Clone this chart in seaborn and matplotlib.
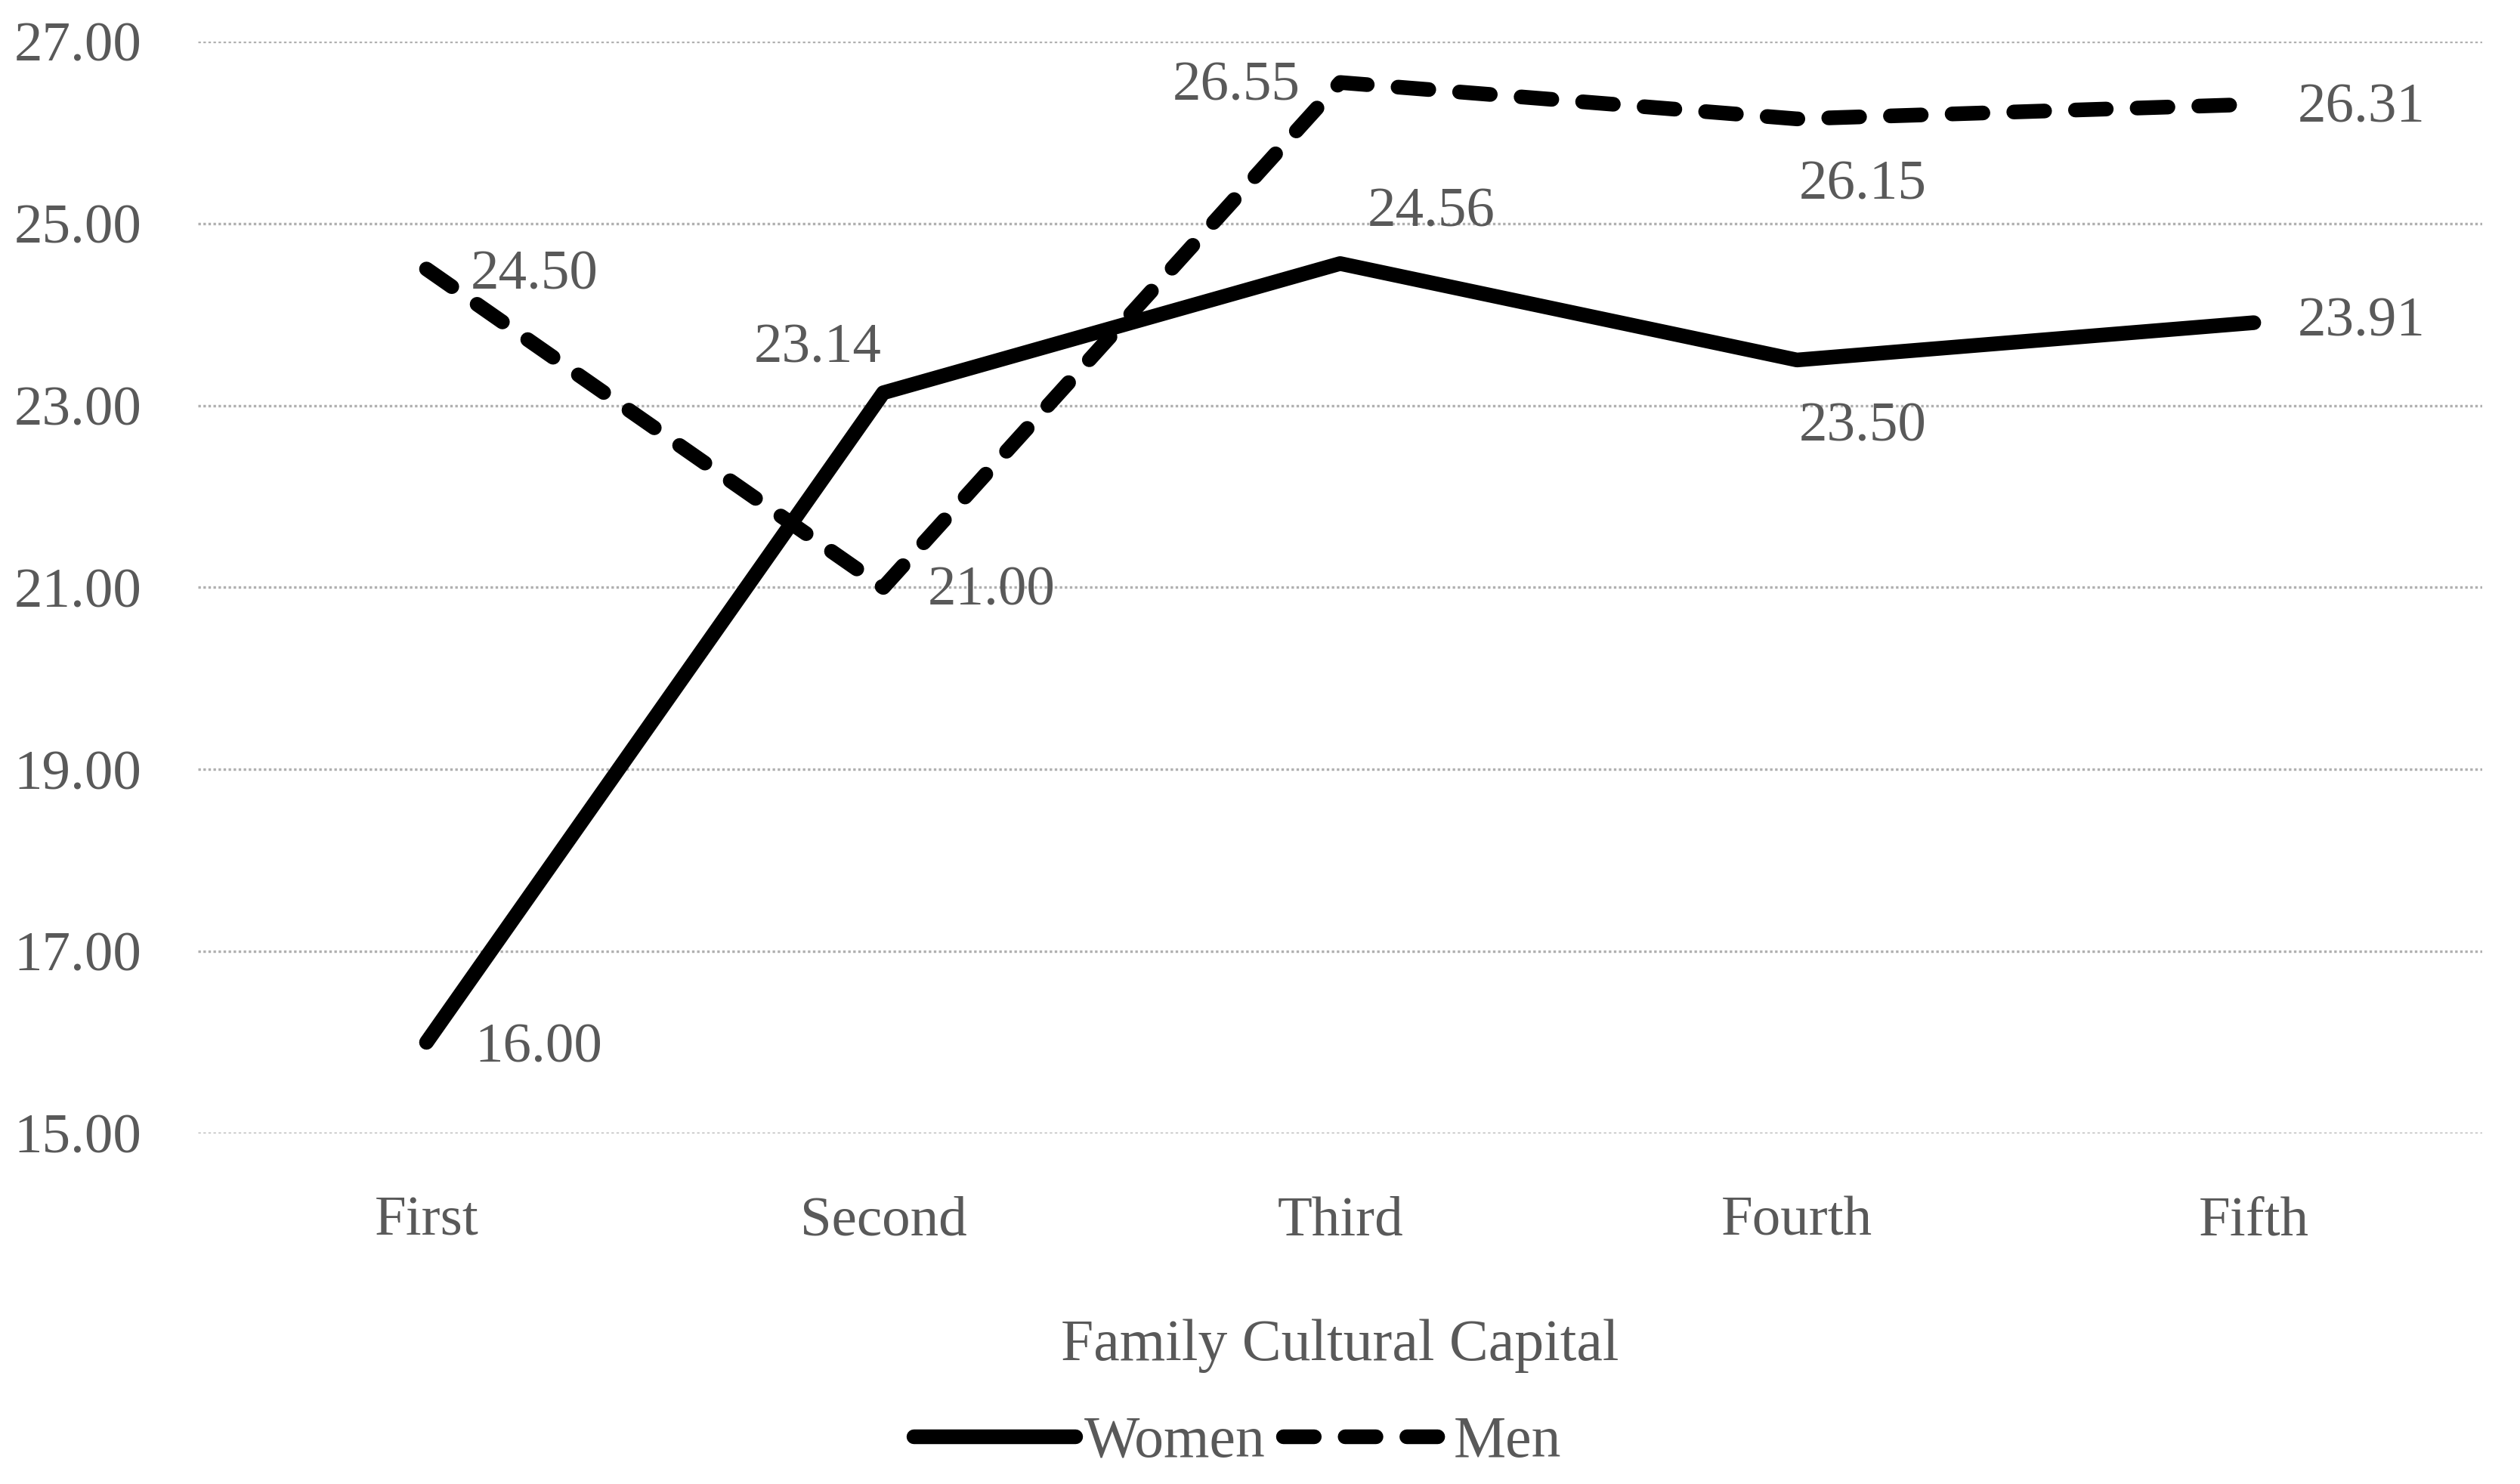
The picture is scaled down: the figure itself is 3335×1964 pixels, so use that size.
import pandas as pd
import matplotlib.pyplot as plt
import seaborn as sns

# Data
categories = ["First", "Second", "Third", "Fourth", "Fifth"]
women = [16.00, 23.14, 24.56, 23.50, 23.91]
men = [24.50, 21.00, 26.55, 26.15, 26.31]
y_ticks = [15, 17, 19, 21, 23, 25, 27]

df = pd.DataFrame({
    "Capital": categories * 2,
    "Score": women + men,
    "Sex": ["Women"] * 5 + ["Men"] * 5,
})

sns.set_style("white")
plt.rcParams["font.family"] = ["Liberation Serif", "DejaVu Serif"]

grey = "#595959"
fs = 27

fig = plt.figure(figsize=(16.675, 9.82), dpi=200)
ax = fig.add_axes([0.0786, 0.2363, 0.9064, 0.7357])

sns.lineplot(
    data=df, x="Capital", y="Score", style="Sex",
    dashes={"Women": "", "Men": (2.1, 2.1)},
    color="black", linewidth=7, sort=False, ax=ax,
)
for ln in ax.lines:
    ln.set_dash_capstyle("round")
    ln.set_solid_capstyle("round")

ax.set_xlim(-0.5, 4.5)
ax.set_ylim(15, 27)
ax.set_yticks(y_ticks)
ax.set_yticklabels([f"{v:.2f}" for v in y_ticks])
ax.yaxis.grid(True, linestyle=(0, (1, 1)), color="#b0b0b0", linewidth=1.2)
ax.set_axisbelow(True)
for s in ax.spines.values():
    s.set_visible(False)
ax.tick_params(axis="both", length=0, labelsize=fs, labelcolor=grey)
ax.tick_params(axis="x", pad=30)
ax.tick_params(axis="y", pad=27)
ax.set_ylabel("")
ax.set_xlabel("Family Cultural Capital", fontsize=28, color=grey, labelpad=34)

# value labels (offset in points, ha)
women_pos = [((23, -3), "left"), ((-1, 21), "right"), ((13, 24), "left"),
             ((1, -32), "left"), ((21, 0), "left")]
men_pos = [((21, -3), "left"), ((21, -2), "left"), ((-19, -2), "right"),
           ((1, -32), "left"), ((21, -2), "left")]
for series, pos in [(women, women_pos), (men, men_pos)]:
    for i, (v, (off, ha)) in enumerate(zip(series, pos)):
        ax.annotate(f"{v:.2f}", (i, v), xytext=off, textcoords="offset points",
                    ha=ha, va="center", fontsize=fs, color=grey)

handles, labels = ax.get_legend_handles_labels()
ax.get_legend().remove()
leg = fig.legend(handles, labels, loc="center", bbox_to_anchor=(0.491, 0.028),
                 ncol=2, frameon=False, fontsize=28, handlelength=2.75,
                 handletextpad=0.15, columnspacing=0.3)
for h in leg.get_lines():
    h.set_linewidth(7)
    h.set_color("black")
    h.set_dash_capstyle("round")
    h.set_solid_capstyle("round")
leg.get_lines()[1].set_dashes((2.1, 2.1))
for t in leg.get_texts():
    t.set_color(grey)

fig.savefig("out.png", dpi=200)
